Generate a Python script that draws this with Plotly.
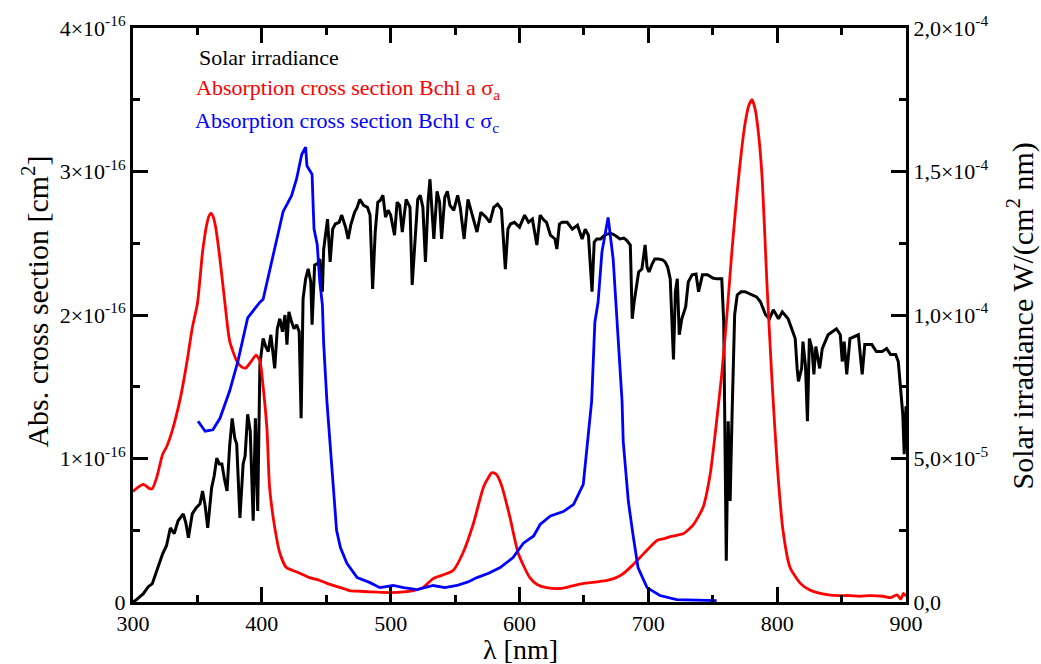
import plotly.graph_objects as go

# ---------------- data ----------------
# Solar irradiance, W/(cm^2 nm) in units of 1e-5
solar_wl = [300, 303, 308, 312, 315, 319, 323, 326, 329, 332, 335, 339, 341, 343, 346, 349, 352, 354, 356, 358,
            361, 363, 365, 367, 369, 371, 373, 375, 377, 379, 380.5, 383, 385.5, 387, 389, 391, 393.3, 395, 396.8, 398.5,
            401, 403, 405, 407, 410, 412, 414, 416, 418, 419.5, 421, 423, 425, 427, 429, 430.5, 432, 434, 436, 438,
            439, 441, 443, 445, 447, 448, 451, 453, 455, 457, 460, 462, 465, 467, 469, 472, 474, 476, 479, 482,
            484, 486, 488, 490, 492, 494, 496, 498, 500, 503, 505, 507, 509, 512, 515, 516.7, 518.5, 521, 523, 525,
            527, 529, 530.5, 532, 533.5, 536, 538, 539.5, 542, 544, 546, 549, 552, 554, 557, 560, 563, 567, 570, 574,
            577, 580, 583, 586, 589, 591, 593, 596, 600, 604, 607, 610, 613.5, 616, 619, 621, 624, 627.5, 629, 631,
            633, 637, 641, 645, 648.6, 651, 653.5, 656.3, 658, 660, 663, 666, 668, 671, 674, 678, 681, 683, 686, 687.5,
            689, 691, 692.5, 695, 697.5, 699, 700.5, 703, 705, 708, 711, 713, 715, 717, 719.5, 721, 722.5, 724, 726, 729,
            731, 734, 737, 739, 742, 746, 750, 753, 757, 758.5, 759.5, 760.5, 762, 763.5, 765, 767, 769, 772, 775, 779,
            784, 787, 789, 791, 794, 797, 801, 804, 808.5, 811.5, 814, 815.5, 816.5, 819, 820, 822, 823.5, 825, 827, 828.5,
            830, 833, 835, 839.5, 843, 846, 849, 850.5, 852, 854, 856.5, 860, 863, 866, 868, 873.5, 877, 881.5, 885, 888,
            892, 894, 895.5, 897.5, 898.6, 900]
solar_irr = [0.0, 0.09, 0.29, 0.54, 0.64, 1.20, 1.68, 1.96, 2.58, 2.38, 2.83, 3.07, 2.76, 2.24, 3.07, 3.28, 3.42, 3.87, 3.35, 2.58,
             3.97, 4.39, 5.01, 4.81, 4.81, 4.28, 3.87, 5.43, 6.40, 5.71, 5.50, 2.93, 4.81, 5.08, 6.54, 5.95, 2.83, 6.40, 3.17, 8.28,
             9.18, 8.90, 8.73, 9.31, 8.14, 9.52, 9.87, 9.42, 10.00, 8.97, 10.11, 9.77, 9.52, 9.66, 9.42, 6.40, 10.56, 11.26, 11.61, 11.15,
             9.66, 11.74, 11.78, 11.95, 10.81, 12.29, 13.34, 11.85, 12.99, 13.17, 13.23, 13.48, 13.06, 12.65, 13.13, 13.58, 13.75, 14.03, 13.82, 13.75,
             13.48, 10.91, 12.89, 13.93, 14.00, 14.17, 13.41, 13.65, 13.48, 12.78, 13.93, 13.82, 12.89, 14.03, 13.75, 11.05, 12.19, 14.03, 14.17, 13.75,
             11.85, 13.93, 14.73, 13.58, 12.65, 14.31, 13.93, 12.65, 14.10, 14.31, 13.82, 13.65, 14.17, 13.75, 12.65, 14.03, 13.58, 12.89, 13.58, 13.41,
             13.23, 13.75, 13.86, 13.68, 11.60, 12.99, 13.17, 13.23, 13.06, 13.48, 13.23, 13.34, 12.44, 13.48, 13.30, 13.23, 12.78, 12.65, 12.30, 13.17,
             13.23, 13.23, 12.99, 13.13, 12.65, 12.99, 12.78, 10.81, 12.54, 12.65, 12.65, 12.78, 12.82, 12.85, 12.78, 12.65, 12.68, 12.61, 12.44, 9.87,
             10.46, 11.05, 11.50, 11.60, 12.44, 11.67, 11.50, 11.78, 11.95, 11.95, 11.92, 11.85, 11.67, 11.26, 8.45, 10.81, 11.26, 9.31, 9.87, 10.29,
             11.15, 11.40, 11.43, 10.81, 11.40, 11.40, 11.29, 11.26, 11.26, 9.77, 6.54, 1.44, 6.30, 3.52, 6.54, 10.01, 10.70, 10.81, 10.81, 10.74,
             10.63, 10.46, 10.22, 10.01, 9.87, 10.18, 9.87, 10.11, 9.87, 9.52, 9.18, 8.14, 7.69, 8.14, 9.07, 8.21, 6.30, 9.18, 8.83, 7.93,
             8.90, 8.14, 8.83, 9.31, 9.42, 9.52, 9.31, 8.38, 9.07, 7.93, 9.18, 9.25, 9.31, 7.93, 8.97, 8.97, 8.73, 8.73, 8.83, 8.62,
             8.62, 8.38, 7.44, 6.54, 5.15, 6.82]

# Absorption cross section Bchl a, cm^2 in units of 1e-16
bchla_wl = [300, 304, 308, 313, 315, 318.5, 323, 326, 330, 336.5, 342, 346, 350, 354, 357, 359, 360.5, 362, 364, 367.5,
            371.5, 375, 380.5, 384, 387.5, 392, 395.5, 398.5, 401, 404, 406, 410, 414, 419, 424, 429.5, 437, 445, 450.6, 461,
            468, 476, 485, 499.5, 510, 517.5, 525, 533, 541, 548.5, 556, 564, 572, 576, 578.5, 580, 582, 584, 586.5, 592.6,
            599, 608, 614, 621, 631.5, 640, 649, 660, 668, 675, 680.5, 687, 693.5, 701, 707, 711.5, 717, 722, 727, 735,
            742.5, 748, 753, 757, 761, 765, 769, 772, 775, 778, 780.5, 783, 786, 788.5, 792, 796, 800, 804.5, 810, 818,
            825, 831, 840, 848, 856.5, 864, 872, 882, 888, 893, 896, 898, 900]
bchla_cs = [0.77, 0.80, 0.82, 0.79, 0.79, 0.87, 1.03, 1.08, 1.18, 1.41, 1.68, 1.91, 2.08, 2.44, 2.62, 2.69, 2.71, 2.69, 2.62, 2.39,
            2.07, 1.82, 1.68, 1.64, 1.63, 1.68, 1.72, 1.68, 1.50, 1.20, 0.80, 0.52, 0.34, 0.24, 0.22, 0.20, 0.17, 0.15, 0.13, 0.10,
            0.08, 0.075, 0.07, 0.066, 0.07, 0.08, 0.10, 0.163, 0.19, 0.22, 0.34, 0.54, 0.80, 0.87, 0.90, 0.90, 0.89, 0.86, 0.80, 0.59,
            0.34, 0.17, 0.12, 0.10, 0.094, 0.11, 0.128, 0.14, 0.15, 0.17, 0.198, 0.25, 0.31, 0.38, 0.43, 0.44, 0.455, 0.465, 0.475, 0.54,
            0.66, 0.89, 1.26, 1.59, 2.00, 2.46, 2.86, 3.12, 3.33, 3.46, 3.50, 3.43, 3.22, 2.93, 2.23, 1.54, 0.96, 0.50, 0.24, 0.13,
            0.085, 0.066, 0.05, 0.045, 0.045, 0.04, 0.045, 0.04, 0.03, 0.05, 0.02, 0.06, 0.04]

# Absorption cross section Bchl c, cm^2 in units of 1e-16
bchlc_wl = [350.5, 356, 362, 367.5, 375, 381.5, 389, 398.5, 401, 406, 411.5, 416.5, 423, 427, 431, 434, 435, 439, 440, 440.5,
            443, 445, 447, 448, 450.5, 454, 458, 461, 466, 474, 484, 491.6, 497, 502, 510, 520.5, 533, 542, 551.5, 560,
            567, 576, 585, 595, 603, 611, 616, 624, 634, 642, 649.5, 652.5, 656, 658.5, 661, 664, 668.8, 672.7, 675.6, 679.6,
            680.5, 684.5, 688, 692, 699, 709, 722, 740, 753]
bchlc_cs = [1.26, 1.19, 1.20, 1.28, 1.47, 1.68, 1.98, 2.09, 2.11, 2.30, 2.51, 2.72, 2.83, 2.95, 3.12, 3.17, 3.04, 2.98, 2.72, 2.60,
            2.49, 2.23, 2.07, 1.80, 1.40, 0.98, 0.50, 0.38, 0.27, 0.17, 0.135, 0.10, 0.108, 0.115, 0.10, 0.087, 0.115, 0.10, 0.115, 0.14,
            0.17, 0.20, 0.24, 0.31, 0.41, 0.46, 0.54, 0.60, 0.63, 0.68, 0.82, 1.10, 1.40, 1.95, 2.09, 2.44, 2.68, 2.39, 1.97, 1.40,
            1.12, 0.70, 0.475, 0.24, 0.10, 0.045, 0.017, 0.01, 0.01]

x_ticks = [300, 400, 500, 600, 700, 800, 900]
left_tickvals = [0, 1, 2, 3, 4]
left_ticktext = ["0", "1×10<sup>-16</sup>", "2×10<sup>-16</sup>", "3×10<sup>-16</sup>", "4×10<sup>-16</sup>"]
right_tickvals = [0, 5, 10, 15, 20]
right_ticktext = ["0,0", "5,0×10<sup>-5</sup>", "1,0×10<sup>-4</sup>", "1,5×10<sup>-4</sup>", "2,0×10<sup>-4</sup>"]

# ---------------- figure ----------------
FONT = "Liberation Serif, Times New Roman, serif"
fig = go.Figure()

fig.add_trace(go.Scatter(x=solar_wl, y=solar_irr, mode="lines", yaxis="y",
                         line=dict(color="black", width=3), showlegend=False))
fig.add_trace(go.Scatter(x=bchla_wl, y=bchla_cs, mode="lines", yaxis="y2",
                         line=dict(color="#ff0000", width=2.8, shape="spline", smoothing=0.6), showlegend=False))
fig.add_trace(go.Scatter(x=bchlc_wl, y=bchlc_cs, mode="lines", yaxis="y2",
                         line=dict(color="#0000ff", width=2.8), showlegend=False))

axis_common = dict(showgrid=False, zeroline=False, showline=True, linecolor="black", linewidth=3,
                   ticks="inside", ticklen=15, tickwidth=3, tickcolor="black",
                   tickfont=dict(family=FONT, size=22, color="black"))
minor_common = dict(ticks="inside", ticklen=7, tickwidth=3, tickcolor="black")

fig.update_layout(
    width=1041, height=664,
    margin=dict(l=133, r=135, t=25, b=62),
    paper_bgcolor="white", plot_bgcolor="white",
    font=dict(family=FONT, color="black"),
    showlegend=False,
    xaxis=dict(range=[300, 900], tickmode="array", tickvals=x_ticks, mirror="ticks",
               minor=dict(dtick=50, tick0=300, **minor_common),
               **axis_common),
    yaxis=dict(range=[0, 20], side="right", tickmode="array", tickvals=right_tickvals, ticktext=right_ticktext,
               minor=dict(dtick=2.5, tick0=0, **minor_common),
               **axis_common),
    yaxis2=dict(range=[0, 4], side="left", overlaying="y", tickmode="array", tickvals=left_tickvals,
                ticktext=left_ticktext,
                minor=dict(dtick=0.5, tick0=0, **minor_common),
                **axis_common),
)

def px_x(x):
    return (x - 133) / 773.0

def px_y(y):
    return (602 - y) / 577.0

annos = [
    dict(text="Solar irradiance", x=px_x(197), y=px_y(55), color="black"),
    dict(text="Absorption cross section Bchl a σ<sub>a</sub>", x=px_x(194), y=px_y(86), color="#ff0000"),
    dict(text="Absorption cross section Bchl c σ<sub>c</sub>", x=px_x(193), y=px_y(119), color="#0000ff"),
]
for a in annos:
    fig.add_annotation(text=a["text"], x=a["x"], y=a["y"], xref="paper", yref="paper",
                       xanchor="left", yanchor="middle", showarrow=False,
                       font=dict(family=FONT, size=22, color=a["color"]))

fig.add_annotation(text="λ [nm]", x=px_x(520), y=px_y(650), xref="paper", yref="paper",
                   xanchor="center", yanchor="middle", showarrow=False,
                   font=dict(family=FONT, size=28, color="black"))
fig.add_annotation(text="Abs. cross section [cm<sup>2</sup>]", x=px_x(35), y=px_y(300), xref="paper", yref="paper",
                   xanchor="center", yanchor="middle", showarrow=False, textangle=-90,
                   font=dict(family=FONT, size=30, color="black"))
fig.add_annotation(text="Solar irradiance W/(cm<sup>2</sup> nm)", x=px_x(1021), y=px_y(315), xref="paper", yref="paper",
                   xanchor="center", yanchor="middle", showarrow=False, textangle=-90,
                   font=dict(family=FONT, size=30, color="black"))

fig.write_html("out.html")
